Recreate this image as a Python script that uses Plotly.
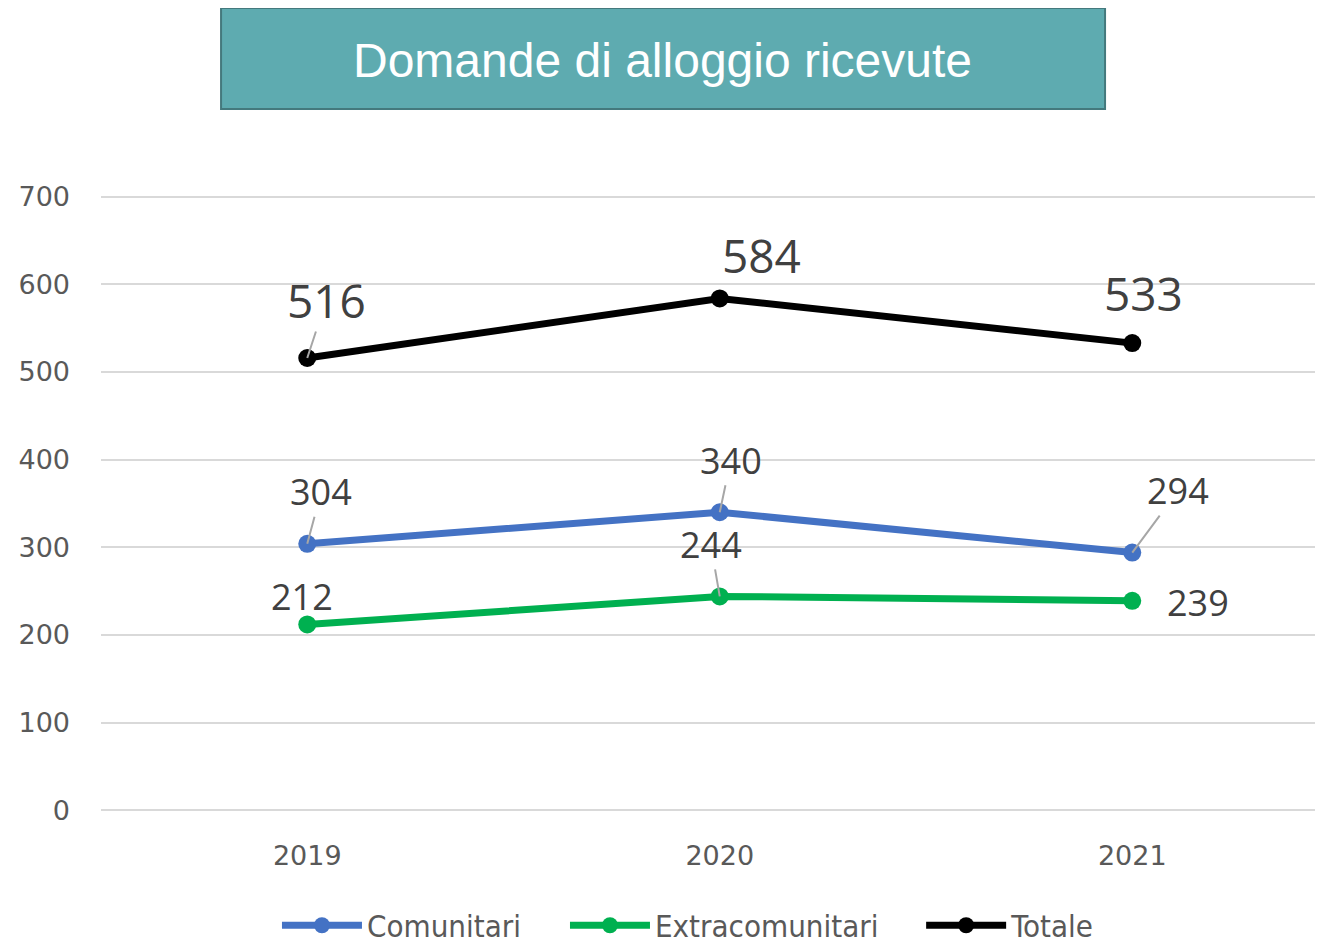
import plotly.graph_objects as go

years = ["2019", "2020", "2021"]
comunitari = [304, 340, 294]
extracomunitari = [212, 244, 239]
totale = [516, 584, 533]
series_names = ["Comunitari", "Extracomunitari", "Totale"]
title_text = "Domande di alloggio ricevute"

colors = ["#4472C4", "#00B050", "#000000"]
series_values = [comunitari, extracomunitari, totale]

# label placement (pixel offsets from point to label centre) and leader-line flags
label_layout = {
    "Comunitari": [(14, -52, True), (11, -52, True), (46, -62, True)],
    "Extracomunitari": [(-5, -28, False), (-9, -52, True), (66, 2, False)],
    "Totale": [(19, -58, True), (42, -43, False), (11, -50, False)],
}
label_size = {"Comunitari": 36, "Extracomunitari": 36, "Totale": 46}
legend_ids = ["legend", "legend2", "legend3"]
legend_x = [0.2033, 0.4210, 0.6902]

fig = go.Figure()
for name, vals, col, lg in zip(series_names, series_values, colors, legend_ids):
    fig.add_trace(go.Scatter(
        x=years, y=vals, name=name, mode="lines+markers",
        line=dict(color=col, width=7),
        marker=dict(color=col, size=18),
        legend=lg,
    ))

annotations = []
for name, vals in zip(series_names, series_values):
    for i, (yv, (dx, dy, leader)) in enumerate(zip(vals, label_layout[name])):
        annotations.append(dict(
            x=i, y=yv, xref="x", yref="y", text=str(yv),
            showarrow=True, ax=dx, ay=dy,
            arrowhead=0, arrowwidth=2, standoff=0,
            arrowcolor="#A6A6A6" if leader else "rgba(0,0,0,0)",
            font=dict(family="Open Sans", size=label_size[name], color="#404040"),
            borderpad=0,
        ))

# title box
annotations.append(dict(
    x=0.4569, y=1.2188, xref="paper", yref="paper", text=title_text,
    showarrow=False, xanchor="center", yanchor="middle",
    font=dict(family="Liberation Sans, Arial, sans-serif", size=48, color="white"),
))

legend_style = dict(
    orientation="h", xref="container", yref="container", y=0.030,
    xanchor="left", yanchor="middle", itemwidth=80,
    bgcolor="rgba(0,0,0,0)",
    font=dict(family="Liberation Sans Narrow, DejaVu Sans Condensed, sans-serif", size=31, color="#595959"),
)
legends = {lg: dict(legend_style, x=lx) for lg, lx in zip(legend_ids, legend_x)}

fig.update_layout(
    width=1323, height=946,
    paper_bgcolor="white", plot_bgcolor="white",
    margin=dict(l=93, r=0, t=187, b=142),
    showlegend=True,
    annotations=annotations,
    shapes=[dict(
        type="rect", xref="paper", yref="paper",
        x0=0.0976, x1=0.8163, y0=1.1394, y1=1.3031,
        fillcolor="#5EABB0", line=dict(color="#44797D", width=2), layer="below",
    )],
    xaxis=dict(
        type="category", categoryorder="array", categoryarray=years,
        range=[-0.5, 2.4818], showgrid=False, zeroline=False, showline=False,
        ticks="", ticklabelstandoff=25,
        tickfont=dict(family="DejaVu Sans", size=27, color="#595959"),
    ),
    yaxis=dict(
        range=[-2, 702], tickvals=[0, 100, 200, 300, 400, 500, 600, 700],
        showgrid=True, gridcolor="#D9D9D9", gridwidth=2,
        zeroline=False, showline=False, ticks="", ticklabelstandoff=30,
        tickfont=dict(family="DejaVu Sans", size=27, color="#595959"),
    ),
    **legends,
)

fig.write_html("out.html")
